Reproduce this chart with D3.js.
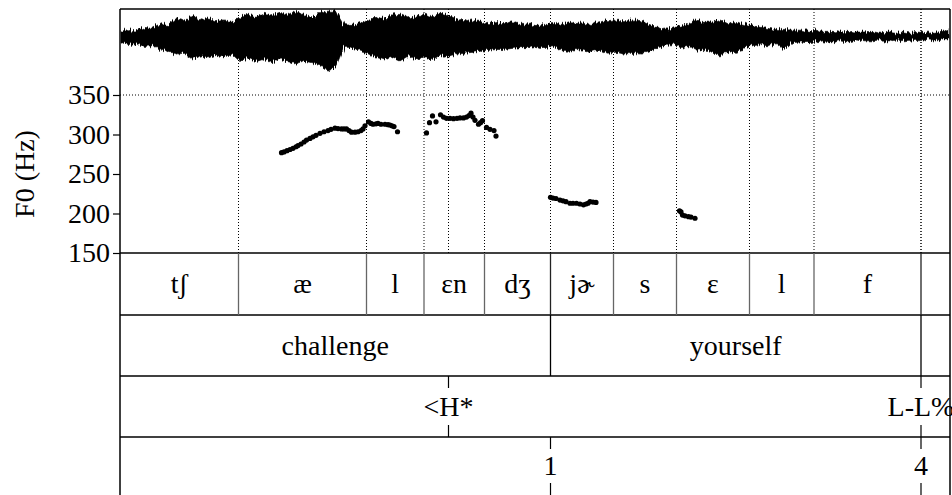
<!DOCTYPE html>
<html><head><meta charset="utf-8">
<script src="https://cdn.jsdelivr.net/npm/d3@7"></script>
<style>
body{margin:0;background:#fff}svg{display:block}
text{font-family:"Liberation Serif",Tinos,"Times New Roman",Times,"DejaVu Serif",serif;font-size:28px;fill:#000}
</style>
</head><body><svg id="c" width="952" height="495">
<defs>
<filter id="hair" x="-2%" y="-30%" width="104%" height="160%">
<feTurbulence type="fractalNoise" baseFrequency="0.9 0.015" numOctaves="2" seed="3" result="n"/>
<feDisplacementMap in="SourceGraphic" in2="n" scale="8" xChannelSelector="A" yChannelSelector="R"/>
</filter>
</defs>
</svg>
<script>
// ---- data ----
const phoneBounds = [0, 237, 493, 608, 729, 861, 987, 1113, 1259, 1388, 1602, 1660];
const phoneLabels = ["tʃ", "æ", "l", "ɛn", "dʒ", "jɚ", "s", "ɛ", "l", "f", ""];
const wordBounds = [0, 861, 1602, 1660];
const wordLabels = ["challenge", "yourself", ""];
const toneTimes = [657, 1602];
const toneLabels = ["<H*", "L-L%"];
const breakTimes = [861, 1602];
const breakLabels = ["1", "4"];
const f0Ticks = [150, 200, 250, 300, 350];
const f0Time = [323,328,334,340,346,352,356,362,368,373,380,386,392,400,408,416,422,430,436,443,448,453,458,463,470,476,482,486,490,497,502,506,512,516,522,530,536,540,544,548,555,
  613,619,625,632,641,647,653,660,667,674,680,687,693,698,702,706,710,717,721,725,733,740,748,752,
  861,866,872,880,886,892,900,906,913,920,927,932,936,940,946,952,
  1119,1122,1125,1130,1137,1142,1150];
const f0Hz = [277,278,279.5,281,282.5,284.5,286,288,290.5,293,295,297,299,301.5,303.5,305,306.5,308,307.5,307,307,307,305,303,303,303.5,305,307,311,316,314,313,313.5,314,313,313,312.5,312,311,310,303.5,
  302,315,323.5,316,325,322,320.5,320.5,320,320.5,321,321,322,324,327,322,318,313,315,317.5,309,306.5,305,298,
  220.5,219.5,219,217,216,215,213,213,213,212,211,212,213,215,214.5,214,
  203.5,202,198,197,196,195.5,194];
// waveform envelope: [time ms, max amplitude, min amplitude]
const wave = [[0,0.15,-0.15],[16,0.2,-0.2],[32,0.15,-0.18],[48,0.25,-0.25],[64,0.23,-0.23],[80,0.35,-0.33],[96,0.3,-0.38],[112,0.48,-0.45],[128,0.43,-0.43],[144,0.55,-0.58],
  [160,0.45,-0.5],[176,0.5,-0.55],[192,0.4,-0.48],[208,0.45,-0.53],[224,0.38,-0.45],[240,0.53,-0.65],[256,0.6,-0.55],[272,0.53,-0.65],[288,0.63,-0.58],[304,0.58,-0.68],
  [320,0.65,-0.55],[336,0.58,-0.65],[352,0.68,-0.7],[368,0.6,-0.63],[384,0.5,-0.68],[400,0.65,-0.73],[416,0.68,-0.9],[432,0.68,-0.78],[448,0.33,-0.25],[464,0.3,-0.3],
  [480,0.38,-0.35],[496,0.43,-0.43],[512,0.53,-0.53],[528,0.48,-0.6],[544,0.58,-0.53],[560,0.6,-0.63],[576,0.5,-0.5],[592,0.55,-0.58],[608,0.6,-0.53],[624,0.53,-0.6],
  [640,0.63,-0.48],[656,0.58,-0.53],[672,0.48,-0.45],[688,0.43,-0.43],[704,0.45,-0.4],[720,0.4,-0.38],[736,0.35,-0.35],[752,0.38,-0.33],[768,0.35,-0.33],[784,0.4,-0.3],
  [800,0.33,-0.28],[816,0.35,-0.28],[832,0.3,-0.25],[848,0.33,-0.28],[864,0.38,-0.23],[880,0.33,-0.33],[896,0.4,-0.38],[912,0.35,-0.33],[928,0.38,-0.35],[944,0.33,-0.38],
  [960,0.4,-0.35],[976,0.43,-0.43],[992,0.45,-0.4],[1008,0.4,-0.45],[1024,0.45,-0.43],[1040,0.43,-0.45],[1056,0.35,-0.38],[1072,0.28,-0.3],[1088,0.2,-0.23],[1104,0.23,-0.2],
  [1120,0.28,-0.28],[1136,0.33,-0.25],[1152,0.48,-0.35],[1168,0.38,-0.33],[1184,0.4,-0.4],[1200,0.45,-0.5],[1216,0.35,-0.38],[1232,0.38,-0.43],[1248,0.33,-0.28],[1264,0.3,-0.23],
  [1280,0.25,-0.2],[1296,0.23,-0.23],[1312,0.2,-0.18],[1328,0.2,-0.33],[1344,0.18,-0.15],[1360,0.18,-0.13],[1376,0.15,-0.15],[1392,0.18,-0.13],[1408,0.15,-0.1],[1424,0.15,-0.13],
  [1440,0.13,-0.1],[1456,0.15,-0.13],[1472,0.13,-0.08],[1488,0.13,-0.1],[1504,0.15,-0.1],[1520,0.1,-0.08],[1536,0.13,-0.13],[1552,0.1,-0.08],[1568,0.13,-0.1],[1584,0.1,-0.08],
  [1600,0.13,-0.1],[1616,0.1,-0.05],[1632,0.13,-0.08],[1648,0.15,-0.05],[1660,0.2,-0.05]];

// ---- layout ----
const L = 120, R = 950, TOP = 9;
const tiers = [253, 315, 376, 437, 498];
const svg = d3.select("#c");
const x = d3.scaleLinear().domain([0, 1660]).range([L, R]);
const y = d3.scaleLinear().domain([150, 350]).range([253, 95]);
const wy = d3.scaleLinear().domain([-1, 1]).range([75, -1]);

// dotted grid
const gridTimes = phoneBounds.slice(1, -1).concat(toneTimes);
svg.append("g").selectAll("line").data(gridTimes).join("line")
  .attr("x1", d => x(d)).attr("x2", d => x(d)).attr("y1", TOP).attr("y2", tiers[0])
  .attr("stroke", "#000").attr("stroke-width", 1).attr("stroke-dasharray", "1,2");
svg.append("line").attr("x1", L).attr("x2", R).attr("y1", y(350)).attr("y2", y(350))
  .attr("stroke", "#000").attr("stroke-width", 1).attr("stroke-dasharray", "1,2");

// waveform
const wg = svg.append("g");
wg.append("clipPath").attr("id", "wclip").append("rect")
  .attr("x", L).attr("y", TOP).attr("width", R - L).attr("height", 90);
wg.append("path").datum(wave)
  .attr("clip-path", "url(#wclip)").attr("filter", "url(#hair)")
  .attr("d", d3.area().x(d => x(d[0])).y0(d => wy(d[2])).y1(d => wy(d[1])))
  .attr("fill", "#000").attr("stroke", "#000").attr("stroke-width", 0.6);

// f0 dots
svg.append("g").selectAll("circle").data(f0Time).join("circle")
  .attr("cx", d => x(d)).attr("cy", (d, i) => y(f0Hz[i])).attr("r", 2.6).attr("fill", "#000");

// y axis
const ax = svg.append("g").attr("transform", `translate(${L},0)`)
  .call(d3.axisLeft(y).tickValues(f0Ticks).tickSize(7).tickPadding(3));
ax.select(".domain").remove();
ax.selectAll("line").attr("stroke", "#000").attr("stroke-width", 1.2);
ax.attr("font-family", null).attr("font-size", null);
svg.append("text").attr("transform", `translate(34,${(y(150) + y(350)) / 2}) rotate(-90)`)
  .attr("text-anchor", "middle").text("F0 (Hz)");

// frame
const frame = svg.append("g").attr("stroke", "#000").attr("stroke-width", 1.5);
frame.append("line").attr("x1", L).attr("x2", R).attr("y1", TOP).attr("y2", TOP);
frame.append("line").attr("x1", L).attr("x2", L).attr("y1", TOP).attr("y2", 495);
frame.append("line").attr("x1", R).attr("x2", R).attr("y1", TOP).attr("y2", 495);
tiers.slice(0, 4).forEach(t => frame.append("line").attr("x1", L).attr("x2", R).attr("y1", t).attr("y2", t));

// phone tier
const pb = phoneBounds.slice(1, -1);
svg.append("g").selectAll("line").data(pb).join("line")
  .attr("x1", d => x(d)).attr("x2", d => x(d)).attr("y1", tiers[0]).attr("y2", tiers[1])
  .attr("stroke", d => wordBounds.includes(d) ? "#222" : "#666").attr("stroke-width", 1.3);
svg.append("g").selectAll("text").data(phoneLabels).join("text")
  .attr("x", (d, i) => (x(phoneBounds[i]) + x(phoneBounds[i + 1])) / 2)
  .attr("y", (tiers[0] + tiers[1]) / 2 + 9)
  .attr("text-anchor", "middle").text(d => d);

// word tier
svg.append("g").selectAll("line").data(wordBounds.slice(1, -1)).join("line")
  .attr("x1", d => x(d)).attr("x2", d => x(d)).attr("y1", tiers[1]).attr("y2", tiers[2])
  .attr("stroke", "#000").attr("stroke-width", 1.3);
svg.append("g").selectAll("text").data(wordLabels).join("text")
  .attr("x", (d, i) => (x(wordBounds[i]) + x(wordBounds[i + 1])) / 2)
  .attr("y", (tiers[1] + tiers[2]) / 2 + 9)
  .attr("text-anchor", "middle").text(d => d);

// point tiers
function pointTier(times, labels, top, bot) {
  const g = svg.append("g");
  times.forEach((t, i) => {
    g.append("line").attr("x1", x(t)).attr("x2", x(t)).attr("y1", top).attr("y2", top + 12)
      .attr("stroke", "#000").attr("stroke-width", 1.2);
    g.append("line").attr("x1", x(t)).attr("x2", x(t)).attr("y1", bot - 12).attr("y2", bot)
      .attr("stroke", "#000").attr("stroke-width", 1.2);
    g.append("text").attr("x", x(t)).attr("y", (top + bot) / 2 + 9)
      .attr("text-anchor", "middle").text(labels[i]);
  });
}
pointTier(toneTimes, toneLabels, tiers[2], tiers[3]);
pointTier(breakTimes, breakLabels, tiers[3], 495);
</script></body></html>
